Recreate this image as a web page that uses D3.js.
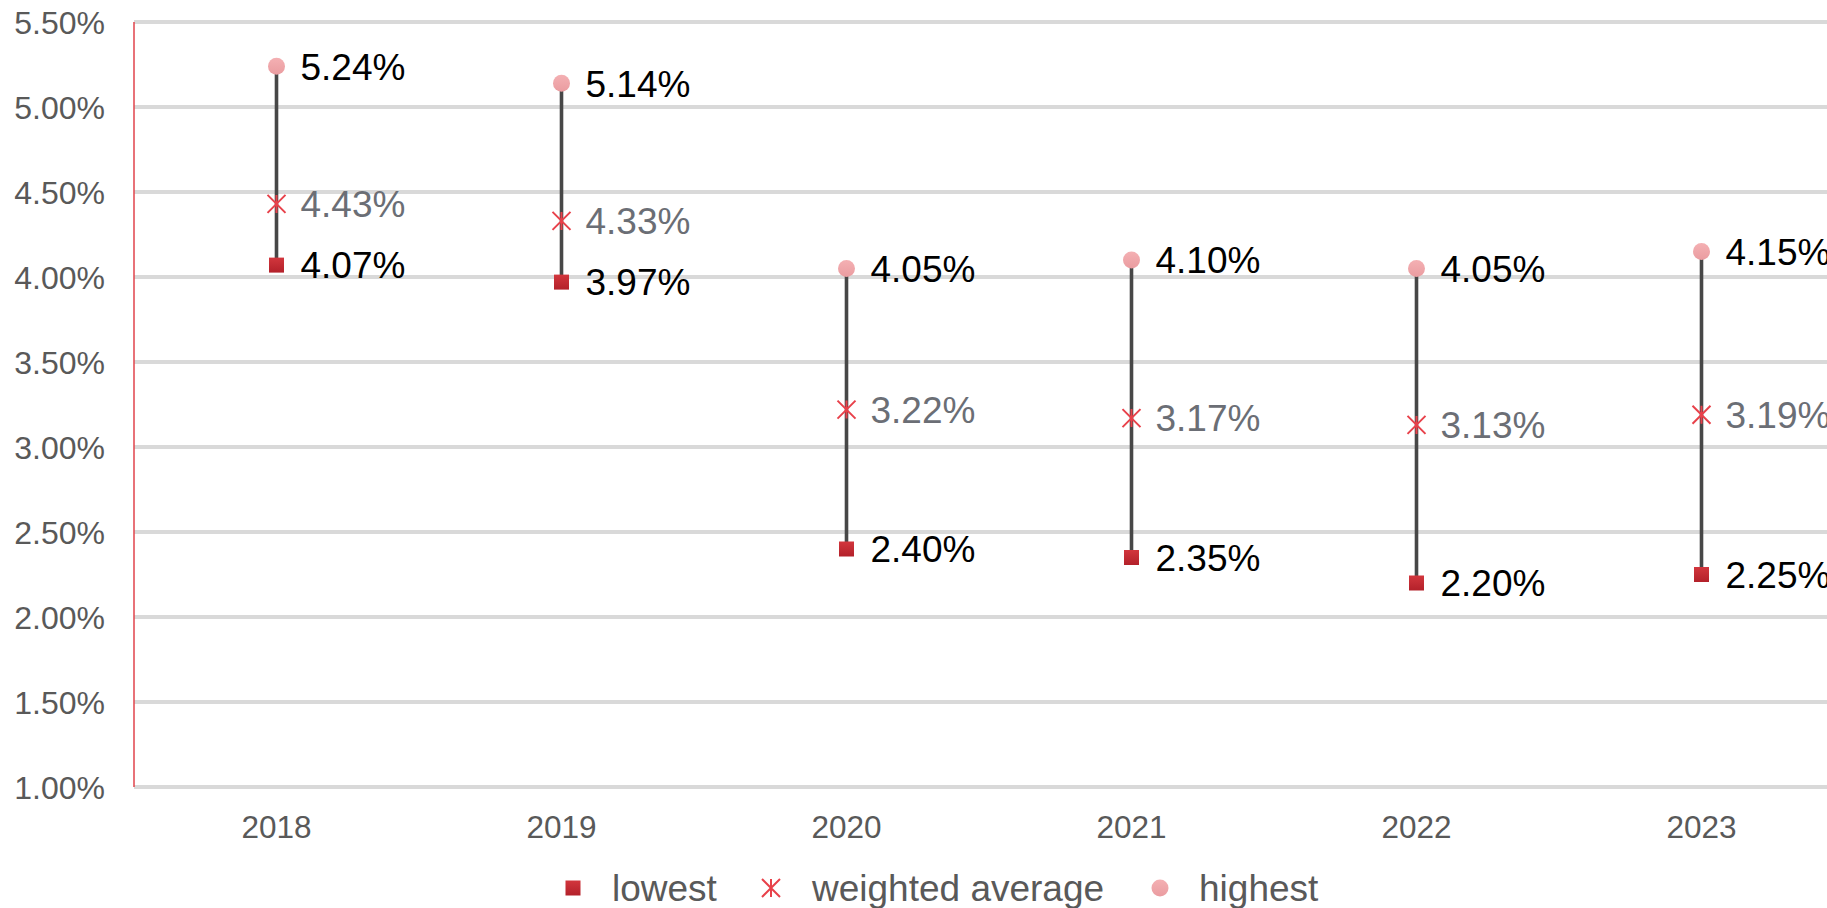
<!DOCTYPE html>
<html>
<head>
<meta charset="utf-8">
<script src="https://cdn.jsdelivr.net/npm/d3@7"></script>
<style>
  html, body { margin: 0; padding: 0; background: #fff; }
  svg { display: block; font-family: "Liberation Sans", Arial, sans-serif; }
</style>
</head>
<body>
<svg id="chart" width="1827" height="908"></svg>
<script>
// Yearly interest rate ranges: lowest, weighted average and highest (in %)
const years = ["2018", "2019", "2020", "2021", "2022", "2023"];
const lowest = [4.07, 3.97, 2.40, 2.35, 2.20, 2.25];
const weightedAverage = [4.43, 4.33, 3.22, 3.17, 3.13, 3.19];
const highest = [5.24, 5.14, 4.05, 4.10, 4.05, 4.15];
const yTicks = [1.0, 1.5, 2.0, 2.5, 3.0, 3.5, 4.0, 4.5, 5.0, 5.5];
const legendLabels = ["lowest", "weighted average", "highest"];

const svg = d3.select("#chart");
const W = 1827;
const plot = { left: 134, right: 1844, top: 22, bottom: 787 };

const x = d3.scaleBand().domain(years).range([plot.left, plot.right]).padding(0);
const y = d3.scaleLinear().domain([1.0, 5.5]).range([plot.bottom, plot.top]);
const cx = d => x(d) + x.bandwidth() / 2;

const defs = svg.append("defs");
const sqGrad = defs.append("linearGradient").attr("id", "sqGrad")
  .attr("x1", 0).attr("y1", 0).attr("x2", 0).attr("y2", 1);
sqGrad.append("stop").attr("offset", "0%").attr("stop-color", "#d2363d");
sqGrad.append("stop").attr("offset", "100%").attr("stop-color", "#b3212a");
const ciGrad = defs.append("linearGradient").attr("id", "ciGrad")
  .attr("x1", 0).attr("y1", 0).attr("x2", 0).attr("y2", 1);
ciGrad.append("stop").attr("offset", "0%").attr("stop-color", "#f4b0b3");
ciGrad.append("stop").attr("offset", "100%").attr("stop-color", "#ea9ca0");

// Horizontal gridlines
svg.append("g")
  .selectAll("line")
  .data(yTicks)
  .join("line")
  .attr("x1", plot.left).attr("x2", W)
  .attr("y1", d => y(d)).attr("y2", d => y(d))
  .attr("stroke", "#d9d9d9").attr("stroke-width", 4);

// Y axis line
svg.append("line")
  .attr("x1", plot.left).attr("x2", plot.left)
  .attr("y1", plot.top).attr("y2", plot.bottom)
  .attr("stroke", "#e0434b").attr("stroke-width", 1.5);

// Y axis tick labels
const yAxis = d3.axisLeft(y).tickValues(yTicks)
  .tickFormat(d => d.toFixed(2) + "%").tickSize(0).tickPadding(0);
const gy = svg.append("g").attr("transform", `translate(${105},0)`).call(yAxis);
gy.select(".domain").remove();
gy.selectAll("text")
  .attr("font-size", 32).attr("fill", "#595959")
  .attr("font-family", "Liberation Sans, Arial, sans-serif")
  .attr("dy", "0.35em");

// X axis category labels
const xAxis = d3.axisBottom(x).tickSize(0).tickPadding(0);
const gx = svg.append("g").attr("transform", `translate(0,${838})`).call(xAxis);
gx.select(".domain").remove();
gx.selectAll("text")
  .attr("font-size", 31.5).attr("fill", "#595959")
  .attr("font-family", "Liberation Sans, Arial, sans-serif")
  .attr("dy", 0).attr("y", 0);

const rows = years.map((yr, i) => ({ yr, lo: lowest[i], avg: weightedAverage[i], hi: highest[i] }));

// Range lines from lowest to highest
svg.append("g").selectAll("line")
  .data(rows).join("line")
  .attr("x1", d => cx(d.yr)).attr("x2", d => cx(d.yr))
  .attr("y1", d => y(d.lo)).attr("y2", d => y(d.hi))
  .attr("stroke", "#474747").attr("stroke-width", 3.6);

// Marker shapes
function drawSquare(g, px, py) {
  g.append("rect").attr("x", px - 7.5).attr("y", py - 7.5)
    .attr("width", 15).attr("height", 15).attr("fill", "url(#sqGrad)");
}
function drawStar(g, px, py) {
  const s = 9;
  g.append("path")
    .attr("d", `M${px - s},${py - s}L${px + s},${py + s}M${px - s},${py + s}L${px + s},${py - s}M${px},${py - s}L${px},${py + s}`)
    .attr("stroke", "#e8414a").attr("stroke-width", 2).attr("fill", "none");
}
function drawCircle(g, px, py) {
  g.append("circle").attr("cx", px).attr("cy", py).attr("r", 8.5).attr("fill", "url(#ciGrad)");
}

const marks = svg.append("g");
rows.forEach(d => {
  drawSquare(marks, cx(d.yr), y(d.lo));
  drawStar(marks, cx(d.yr), y(d.avg));
  drawCircle(marks, cx(d.yr), y(d.hi));
});

// Value labels
const labelSpecs = [
  { key: "hi", color: "#000000" },
  { key: "avg", color: "#6b6e75" },
  { key: "lo", color: "#000000" }
];
labelSpecs.forEach(spec => {
  svg.append("g").selectAll("text")
    .data(rows).join("text")
    .attr("x", d => cx(d.yr) + 24)
    .attr("y", d => y(d[spec.key]))
    .attr("dy", "0.36em")
    .attr("font-size", 37)
    .attr("fill", spec.color)
    .text(d => d[spec.key].toFixed(2) + "%");
});

// Legend
const legendY = 888;
const legend = svg.append("g");
const legendItems = [
  { label: legendLabels[0], mx: 573, tx: 612, draw: drawSquare },
  { label: legendLabels[1], mx: 771, tx: 812, draw: drawStar },
  { label: legendLabels[2], mx: 1160, tx: 1199, draw: drawCircle }
];
legendItems.forEach(it => {
  it.draw(legend, it.mx, legendY);
  legend.append("text")
    .attr("x", it.tx).attr("y", legendY).attr("dy", "0.36em")
    .attr("font-size", 37).attr("fill", "#595959")
    .text(it.label);
});
</script>
</body>
</html>
